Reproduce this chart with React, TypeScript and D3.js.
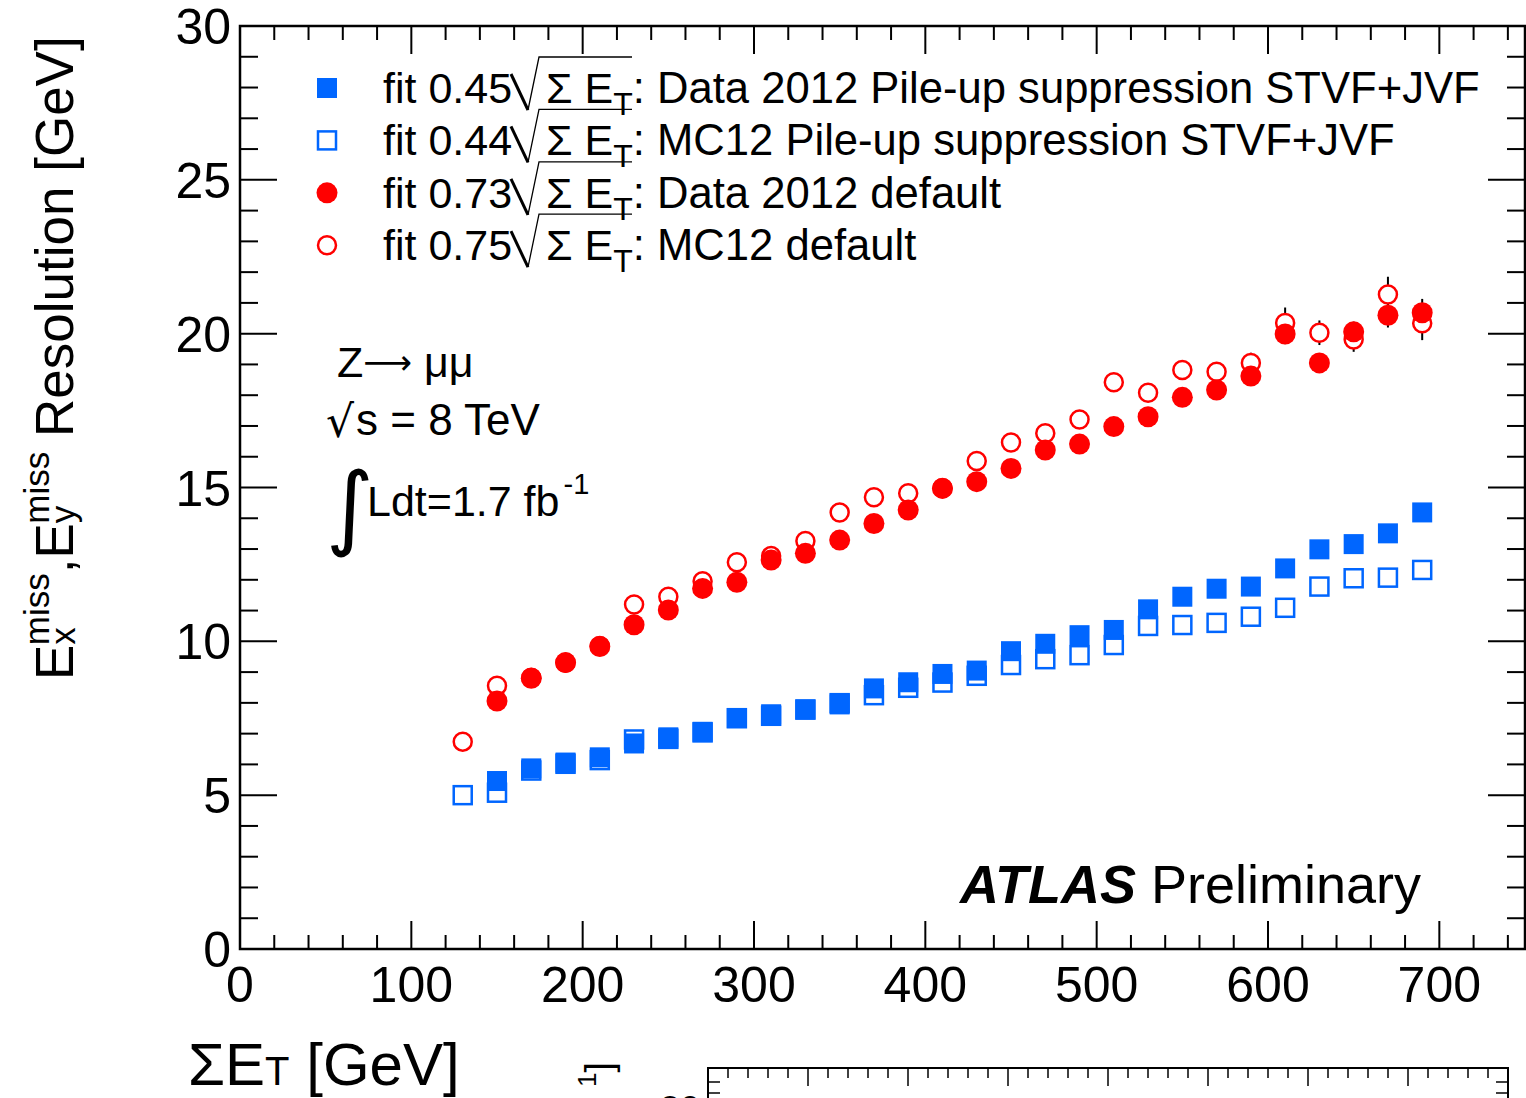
import React, { useEffect, useRef } from 'react';
import * as d3 from 'd3';

// sum E_T bin centres [GeV]
const sumEtMc = [130, 150, 170, 190, 210, 230, 250, 270, 290, 310, 330, 350, 370, 390, 410,
  430, 450, 470, 490, 510, 530, 550, 570, 590, 610, 630, 650, 670, 690];
const sumEtData = [150, 170, 190, 210, 230, 250, 270, 290, 310, 330, 350, 370, 390, 410,
  430, 450, 470, 490, 510, 530, 550, 570, 590, 610, 630, 650, 670, 690];

// resolution [GeV]
const dataPu = [5.46, 5.87, 6.06, 6.23, 6.68, 6.88, 7.06, 7.51, 7.63, 7.79, 7.95, 8.47, 8.67, 8.94,
  9.05, 9.68, 9.92, 10.2, 10.37, 11.04, 11.45, 11.71, 11.78, 12.37, 12.99, 13.16, 13.51, 14.19];
const dataPuErr = [0.05, 0.05, 0.05, 0.05, 0.06, 0.06, 0.06, 0.07, 0.07, 0.08, 0.08, 0.09, 0.09, 0.1,
  0.1, 0.11, 0.12, 0.12, 0.13, 0.14, 0.15, 0.16, 0.17, 0.18, 0.19, 0.2, 0.22, 0.24];
const mcPu = [5.0, 5.08, 5.8, 6.02, 6.14, 6.81, 6.83, 7.04, 7.5, 7.58, 7.78, 7.99, 8.25, 8.49, 8.66,
  8.88, 9.23, 9.42, 9.55, 9.88, 10.5, 10.53, 10.6, 10.8, 11.09, 11.78, 12.05, 12.07, 12.32];
const mcPuErr = [0.05, 0.05, 0.05, 0.05, 0.05, 0.06, 0.06, 0.06, 0.07, 0.07, 0.08, 0.08, 0.09, 0.09, 0.1,
  0.1, 0.11, 0.12, 0.12, 0.13, 0.14, 0.15, 0.16, 0.17, 0.18, 0.19, 0.2, 0.22, 0.24];
const dataDefault = [8.06, 8.8, 9.31, 9.83, 10.54, 11.02, 11.72, 11.92, 12.64, 12.86, 13.29, 13.83, 14.27, 14.97,
  15.19, 15.62, 16.22, 16.41, 16.98, 17.3, 17.93, 18.17, 18.62, 19.99, 19.05, 20.06, 20.6, 20.68];
const dataDefaultErr = [0.06, 0.06, 0.07, 0.07, 0.08, 0.08, 0.09, 0.1, 0.1, 0.11, 0.12, 0.13, 0.14, 0.15,
  0.16, 0.17, 0.18, 0.19, 0.2, 0.21, 0.23, 0.25, 0.3, 0.33, 0.3, 0.33, 0.4, 0.45];
const mcDefault = [6.74, 8.56, 8.82, 9.3, 9.85, 11.2, 11.45, 11.95, 12.57, 12.77, 13.26, 14.19, 14.68, 14.81, 14.98,
  15.86, 16.46, 16.76, 17.21, 18.42, 18.08, 18.82, 18.76, 19.05, 20.35, 20.03, 19.81, 21.27, 20.34];
const mcDefaultErr = [0.06, 0.06, 0.07, 0.07, 0.08, 0.08, 0.09, 0.1, 0.1, 0.11, 0.12, 0.13, 0.14, 0.15, 0.16,
  0.17, 0.18, 0.19, 0.2, 0.22, 0.24, 0.26, 0.3, 0.33, 0.5, 0.4, 0.4, 0.58, 0.55];

const xTickLabels = ['0', '100', '200', '300', '400', '500', '600', '700'];
const yTickLabels = ['0', '5', '10', '15', '20', '25', '30'];

const legendCoefs = ['0.45', '0.44', '0.73', '0.75'];
const legendTexts = [
  ': Data 2012 Pile-up suppression STVF+JVF',
  ': MC12 Pile-up suppression STVF+JVF',
  ': Data 2012 default',
  ': MC12 default',
];

const FONT = '"Liberation Sans", Arial, Helvetica, sans-serif';
const BLUE = '#0066ff';
const RED = '#ff0000';

function App() {
  const svgRef = useRef<SVGSVGElement>(null);

  useEffect(() => {
    const svg = d3.select(svgRef.current);
    svg.selectAll('*').remove();

    const x = d3.scaleLinear().domain([0, 750]).range([240, 1525]);
    const y = d3.scaleLinear().domain([0, 30]).range([949, 26]);
    const [x0, x1] = x.range();
    const [y0, y1] = y.range();

    const axes = svg.append('g').attr('stroke', '#000');

    // x ticks (bottom + top), major every 100, minor every 20
    d3.range(0, 751, 20).forEach(v => {
      const len = v % 100 === 0 ? 28 : 14;
      axes.append('line').attr('x1', x(v)).attr('x2', x(v)).attr('y1', y0).attr('y2', y0 - len).attr('stroke-width', 2);
      axes.append('line').attr('x1', x(v)).attr('x2', x(v)).attr('y1', y1).attr('y2', y1 + len).attr('stroke-width', 2);
    });
    // y ticks (left + right), major every 5, minor every 1
    d3.range(0, 31, 1).forEach(v => {
      const len = v % 5 === 0 ? 37 : 18;
      axes.append('line').attr('x1', x0).attr('x2', x0 + len).attr('y1', y(v)).attr('y2', y(v)).attr('stroke-width', 2);
      axes.append('line').attr('x1', x1).attr('x2', x1 - len).attr('y1', y(v)).attr('y2', y(v)).attr('stroke-width', 2);
    });
    axes.append('rect')
      .attr('x', x0).attr('y', y1).attr('width', x1 - x0).attr('height', y0 - y1)
      .attr('fill', 'none').attr('stroke-width', 2.5);

    // tick labels
    svg.append('g').selectAll('text').data(xTickLabels).join('text')
      .attr('x', d => x(+d)).attr('y', 1002)
      .attr('text-anchor', 'middle').attr('font-size', 50).text(d => d);
    svg.append('g').selectAll('text').data(yTickLabels).join('text')
      .attr('x', 231).attr('y', d => y(+d) + 18)
      .attr('text-anchor', 'end').attr('font-size', 50).text(d => d);

    // error bars
    const err = svg.append('g').attr('stroke', '#000').attr('stroke-width', 2);
    const drawErr = (xs: number[], vs: number[], es: number[]) => {
      xs.forEach((xv, i) => {
        err.append('line').attr('x1', x(xv)).attr('x2', x(xv))
          .attr('y1', y(vs[i] - es[i])).attr('y2', y(vs[i] + es[i]));
      });
    };
    drawErr(sumEtMc, mcDefault, mcDefaultErr);
    drawErr(sumEtData, dataDefault, dataDefaultErr);
    drawErr(sumEtMc, mcPu, mcPuErr);
    drawErr(sumEtData, dataPu, dataPuErr);

    const marks = svg.append('g');
    const openCircles = (xs: number[], vs: number[]) => marks.append('g').selectAll('circle').data(vs).join('circle')
      .attr('cx', (d, i) => x(xs[i])).attr('cy', d => y(d)).attr('r', 9)
      .attr('fill', '#fff').attr('stroke', RED).attr('stroke-width', 2.5);
    const filledCircles = (xs: number[], vs: number[]) => marks.append('g').selectAll('circle').data(vs).join('circle')
      .attr('cx', (d, i) => x(xs[i])).attr('cy', d => y(d)).attr('r', 10.5).attr('fill', RED);
    const openSquares = (xs: number[], vs: number[]) => marks.append('g').selectAll('rect').data(vs).join('rect')
      .attr('x', (d, i) => x(xs[i]) - 9).attr('y', d => y(d) - 9).attr('width', 18).attr('height', 18)
      .attr('fill', '#fff').attr('stroke', BLUE).attr('stroke-width', 2.5);
    const filledSquares = (xs: number[], vs: number[]) => marks.append('g').selectAll('rect').data(vs).join('rect')
      .attr('x', (d, i) => x(xs[i]) - 10).attr('y', d => y(d) - 10).attr('width', 20).attr('height', 20)
      .attr('fill', BLUE);
    openCircles(sumEtMc, mcDefault);
    filledCircles(sumEtData, dataDefault);
    openSquares(sumEtMc, mcPu);
    filledSquares(sumEtData, dataPu);

    // legend
    const legend = svg.append('g');
    legendCoefs.forEach((c, i) => {
      const cy = 88 + i * 52.4;
      const mx = 327;
      if (i === 0) legend.append('rect').attr('x', mx - 10).attr('y', cy - 10).attr('width', 20).attr('height', 20).attr('fill', BLUE);
      if (i === 1) legend.append('rect').attr('x', mx - 9).attr('y', cy - 9).attr('width', 18).attr('height', 18).attr('fill', '#fff').attr('stroke', BLUE).attr('stroke-width', 2.5);
      if (i === 2) legend.append('circle').attr('cx', mx).attr('cy', cy).attr('r', 10.5).attr('fill', RED);
      if (i === 3) legend.append('circle').attr('cx', mx).attr('cy', cy).attr('r', 9).attr('fill', '#fff').attr('stroke', RED).attr('stroke-width', 2.5);

      legend.append('text').attr('x', 383).attr('y', cy + 15).attr('font-size', 43).text(`fit ${c}`);
      // square root sign drawn as strokes
      legend.append('path').attr('d', `M511,${cy - 14} L528,${cy + 22}`).attr('stroke', '#000').attr('stroke-width', 3).attr('fill', 'none');
      legend.append('path').attr('d', `M528,${cy + 22} L539,${cy - 31} L632,${cy - 31}`).attr('stroke', '#000').attr('stroke-width', 1.3).attr('fill', 'none');
      const t = legend.append('text').attr('x', 546).attr('y', cy + 15).attr('font-size', 43);
      t.append('tspan').text('Σ E');
      t.append('tspan').attr('font-size', 32).attr('dy', 12).text('T');
      t.append('tspan').attr('dy', -12).attr('font-size', 43.6).text(legendTexts[i]);
    });

    // process labels
    const info = svg.append('g');
    const z = info.append('text').attr('x', 337).attr('y', 377).attr('font-size', 43);
    z.append('tspan').text('Z');
    z.append('tspan').attr('font-family', '"DejaVu Sans", sans-serif').attr('font-size', 34).attr('dy', -3).text('⟶');
    z.append('tspan').attr('dy', 3).text(' μμ');
    info.append('text').attr('x', 326).attr('y', 437).attr('font-size', 44)
      .attr('font-family', '"DejaVu Sans", sans-serif').text('√');
    info.append('text').attr('x', 356).attr('y', 435).attr('font-size', 44).text('s = 8 TeV');
    info.append('text').attr('x', 326).attr('y', 538).attr('font-size', 92).attr('font-family', '"DejaVu Sans", sans-serif').text('∫');
    const lumi = info.append('text').attr('x', 367).attr('y', 516).attr('font-size', 43);
    lumi.append('tspan').text('Ldt=1.7 fb');
    lumi.append('tspan').attr('font-size', 29).attr('dy', -22).attr('dx', 4).text('-1');

    const atlas = svg.append('text').attr('x', 960).attr('y', 903).attr('font-size', 54);
    atlas.append('tspan').attr('font-weight', 'bold').attr('font-style', 'italic').text('ATLAS');
    atlas.append('tspan').text(' Preliminary');

    // axis titles
    const xt = svg.append('text').attr('x', 188).attr('y', 1085).attr('font-size', 60);
    xt.append('tspan').text('ΣE');
    xt.append('tspan').attr('font-size', 40).text('T');
    xt.append('tspan').text(' [GeV]');

    const yt = svg.append('text').attr('transform', 'translate(73,680) rotate(-90)').attr('font-size', 53);
    yt.append('tspan').text('E');
    yt.append('tspan').attr('font-size', 35).attr('dy', 2).text('x');
    yt.append('tspan').attr('font-size', 35).attr('dx', -18).attr('dy', -26).text('miss');
    yt.append('tspan').attr('dy', 24).text(',E');
    yt.append('tspan').attr('font-size', 35).attr('dy', 2).text('y');
    yt.append('tspan').attr('font-size', 35).attr('dx', -18).attr('dy', -26).text('miss');
    yt.append('tspan').attr('dy', 24).text(' Resolution [GeV]');

    // next pad, partly visible at the bottom
    const p2 = d3.scaleLinear().domain([0, 800]).range([708, 1508]);
    const pad2 = svg.append('g').attr('stroke', '#000');
    pad2.append('path').attr('d', `M708,1099 L708,1068 L1508,1068 L1508,1099`).attr('fill', 'none').attr('stroke-width', 2);
    d3.range(0, 801, 20).forEach(v => {
      const len = v % 100 === 0 ? 18 : 10;
      pad2.append('line').attr('x1', p2(v)).attr('x2', p2(v)).attr('y1', 1068).attr('y2', 1068 + len).attr('stroke-width', 1.5);
    });
    [1082, 1093].forEach(yy => {
      pad2.append('line').attr('x1', 708).attr('x2', 720).attr('y1', yy).attr('y2', yy).attr('stroke-width', 1.5);
      pad2.append('line').attr('x1', 1508).attr('x2', 1496).attr('y1', yy).attr('y2', yy).attr('stroke-width', 1.5);
    });
    const p2t = svg.append('text').attr('transform', 'translate(612,1062) rotate(-90)').attr('text-anchor', 'end').attr('font-size', 38);
    p2t.append('tspan').attr('font-size', 26).attr('dy', -16).text('1');
    p2t.append('tspan').attr('dy', 16).text(']');
    svg.append('text').attr('x', 700).attr('y', 1122).attr('text-anchor', 'end').attr('font-size', 36).text('30');
  }, []);

  return (
    <div style={{ position: 'absolute', left: 0, top: 0 }}>
      <svg ref={svgRef} width={1526} height={1098} fontFamily={FONT}
        style={{ display: 'block', background: '#fff', overflow: 'hidden' }} />
    </div>
  );
}

export default App;
